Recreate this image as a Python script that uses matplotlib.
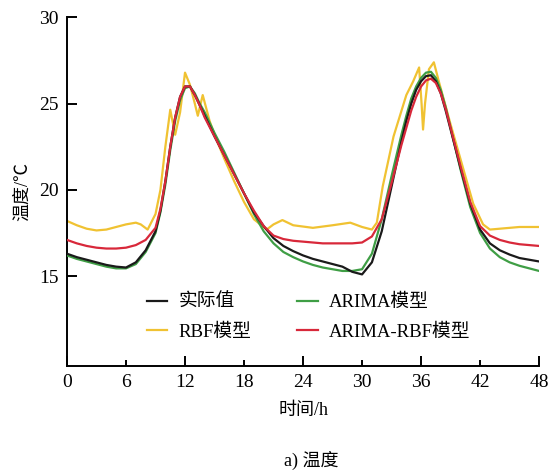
import matplotlib

matplotlib.use("Agg")
import matplotlib.pyplot as plt
from matplotlib.ticker import FixedLocator, MultipleLocator, FormatStrFormatter

plt.rcParams["font.family"] = ["Liberation Serif", "Noto Sans CJK SC"]

# sample times: hourly, half-hourly around the two peaks
times = ([0, 1, 2, 3, 4, 5, 6, 7, 8, 9]
         + [9.5, 10, 10.5, 11, 11.5, 12, 12.5, 13, 13.5, 14]
         + [15, 16, 17, 18, 19, 20, 21, 22, 23, 24, 25, 26, 27, 28, 29,
            30, 31, 32, 33]
         + [33.5, 34, 34.5, 35, 35.5, 36, 36.5, 37, 37.5, 38, 38.5, 39]
         + [40, 41, 42, 43, 44, 45, 46, 47, 48])
actual = ([16.3, 16.1, 15.95, 15.8, 15.65, 15.55, 15.5, 15.8, 16.5, 17.6]
          + [18.8, 20.5, 22.5, 24.2, 25.4, 26.0, 26.0, 25.5, 24.9, 24.3]
          + [23.1, 22.0, 20.9, 19.8, 18.7, 17.9, 17.2, 16.75, 16.45, 16.2,
             16.0, 15.85, 15.7, 15.55, 15.25, 15.1, 15.8, 17.6, 20.2]
          + [21.5, 22.8, 24.0, 25.0, 25.8, 26.3, 26.6, 26.65, 26.3, 25.6,
             24.6, 23.5]
          + [21.3, 19.2, 17.7, 16.9, 16.5, 16.25, 16.05, 15.95, 15.85])
arima = ([16.2, 16.0, 15.85, 15.7, 15.55, 15.45, 15.45, 15.7, 16.4, 17.5]
         + [18.7, 20.3, 22.3, 24.0, 25.2, 25.9, 26.0, 25.6, 25.0, 24.5]
         + [23.3, 22.2, 21.0, 19.8, 18.6, 17.6, 16.9, 16.4, 16.1, 15.85,
            15.65, 15.5, 15.4, 15.3, 15.3, 15.4, 16.3, 18.3, 20.8]
         + [22.0, 23.2, 24.3, 25.3, 26.0, 26.5, 26.8, 26.85, 26.5, 25.8,
            24.8, 23.6]
         + [21.2, 19.0, 17.5, 16.6, 16.1, 15.8, 15.6, 15.45, 15.3])
hybrid = ([17.1, 16.9, 16.75, 16.65, 16.6, 16.6, 16.65, 16.8, 17.1, 17.8]
          + [18.9, 20.5, 22.5, 24.2, 25.4, 26.0, 26.0, 25.5, 24.9, 24.2]
          + [23.1, 22.0, 20.9, 19.8, 18.8, 17.9, 17.35, 17.15, 17.05, 17.0,
             16.95, 16.9, 16.9, 16.9, 16.9, 16.95, 17.3, 18.3, 20.4]
          + [21.5, 22.6, 23.6, 24.6, 25.4, 26.0, 26.35, 26.45, 26.2, 25.6,
             24.7, 23.6]
          + [21.4, 19.3, 17.9, 17.35, 17.1, 16.95, 16.85, 16.8, 16.75])

# RBF model, read at its own times (spikes need finer steps)
rbf_hours = [0, 1, 2, 3, 4, 5, 6, 7, 7.5, 8.2, 9, 9.5, 10.0, 10.5, 11.0,
             11.5, 12.0, 12.5, 13.0, 13.3, 13.8, 14.5, 15, 16, 17, 18, 19,
             20.3, 21, 21.9, 23, 25, 27, 28.8, 30, 31, 31.5, 32.1, 33.2,
             34.5, 35.2, 35.8, 36.05, 36.2, 36.4, 36.8, 37.3, 37.8, 39,
             40.3, 41.3, 42.3, 43, 44, 45, 46, 47, 48]
rbf = [18.2, 17.95, 17.75, 17.65, 17.7, 17.85, 18.0, 18.1, 18.0, 17.7,
       18.6, 20.0, 22.5, 24.65, 23.2, 24.5, 26.8, 26.1, 25.0, 24.3,
       25.5, 24.0, 23.2, 21.8, 20.5, 19.3, 18.3, 17.7, 18.0, 18.25,
       17.95, 17.8, 17.95, 18.1, 17.85, 17.7, 18.1, 20.2, 23.1, 25.5,
       26.3, 27.1, 25.0, 23.5, 25.0, 27.0, 27.4, 26.3, 23.8, 21.2,
       19.2, 18.0, 17.7, 17.75, 17.8, 17.85, 17.85, 17.85]

fig = plt.figure(figsize=(5.49, 4.72), dpi=100)
ax = fig.add_axes([0.122, 0.225, 0.860, 0.738])

lw = 1.6
h_act, = ax.plot(times, actual, color="#1a1a1a", lw=lw, zorder=4,
                 solid_joinstyle="round")
h_ari, = ax.plot(times, arima, color="#3f9e45", lw=lw, zorder=3,
                 solid_joinstyle="round")
h_rbf, = ax.plot(rbf_hours, rbf, color="#f0c232", lw=lw, zorder=2,
                 solid_joinstyle="round")
h_hyb, = ax.plot(times, hybrid, color="#d8283a", lw=lw, zorder=5,
                 solid_joinstyle="round")

ax.set_xlim(0, 48)
ax.set_ylim(9.8, 30)
for side in ("top", "right"):
    ax.spines[side].set_visible(False)
for side in ("left", "bottom"):
    ax.spines[side].set_linewidth(1.4)

ax.xaxis.set_major_locator(MultipleLocator(12))
ax.xaxis.set_minor_locator(FixedLocator([6, 18, 30, 42]))
ax.xaxis.set_minor_formatter(FormatStrFormatter("%d"))
ax.yaxis.set_major_locator(FixedLocator([15, 20, 25, 30]))
ax.tick_params(axis="both", which="major", direction="in", length=7,
               width=1.4, labelsize=14, pad=6)
ax.tick_params(axis="x", which="minor", direction="in", length=4,
               width=1.4, labelsize=14, pad=6)

ax.set_xlabel("时间/h", fontsize=13, labelpad=8)
ax.set_ylabel("温度/℃", fontsize=13, labelpad=6)

ax.legend([h_act, h_rbf, h_ari, h_hyb],
          ["实际值", "RBF模型", "ARIMA模型", "ARIMA-RBF模型"],
          ncol=2, frameon=False, fontsize=13.5, loc="upper left",
          bbox_to_anchor=(0.133, 0.255), handlelength=1.1,
          handletextpad=0.6, columnspacing=2.45, labelspacing=0.65)

fig.text(0.567, 0.025, "a) 温度", ha="center", va="center", fontsize=13)

fig.savefig("out.png", dpi=100)
